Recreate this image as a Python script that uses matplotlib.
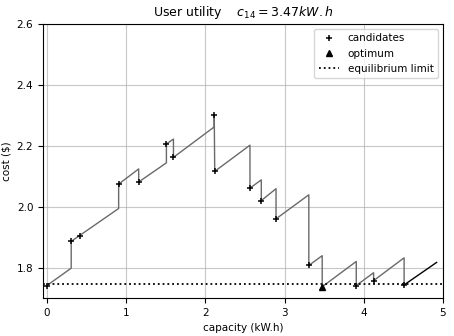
import numpy as np
import matplotlib.pyplot as plt

# ========= data =========
path_x = [0.0, 0.306, 0.306, 0.905, 0.905, 1.158, 1.158, 1.508, 1.508, 1.597, 1.597,
          2.112, 2.112, 2.118, 2.563, 2.563, 2.706, 2.706, 2.892, 2.892, 3.306, 3.306,
          3.475, 3.475, 3.905, 3.905, 4.124, 4.124, 4.509, 4.509]
path_y = [1.741, 1.798, 1.886, 1.994, 2.074, 2.124, 2.081, 2.144, 2.206, 2.222, 2.162,
          2.262, 2.300, 2.116, 2.202, 2.061, 2.088, 2.020, 2.059, 1.960, 2.039, 1.807,
          1.839, 1.737, 1.820, 1.741, 1.783, 1.757, 1.832, 1.743]
tail_x = [4.509, 4.92]
tail_y = [1.743, 1.817]

cand_x = [0.0, 0.306, 0.42, 0.905, 1.158, 1.508, 1.597, 2.112, 2.118, 2.563, 2.706,
          2.892, 3.306, 3.905, 4.124, 4.509]
cand_y = [1.741, 1.886, 1.904, 2.074, 2.081, 2.206, 2.162, 2.300, 2.116, 2.061, 2.020,
          1.960, 1.807, 1.741, 1.757, 1.743]
opt_x, opt_y = 3.47, 1.737
eq_limit = 1.747

# ========= plot =========
plt.rcParams['font.size'] = 7.5
fig = plt.figure(figsize=(4.54, 3.36), dpi=100)
ax = fig.add_axes([43 / 454, 1 - 298 / 336, 400 / 454, 274 / 336])

ax.plot(path_x, path_y, color="dimgray", linewidth=1.0, zorder=2)
ax.plot(tail_x, tail_y, color="black", linewidth=1.0, zorder=2)
ax.plot(cand_x, cand_y, "k+", markersize=5, markeredgewidth=1.1, label="candidates", zorder=3)
ax.plot([opt_x], [opt_y], "k^", markersize=5, label="optimum", zorder=3)
ax.axhline(eq_limit, color="black", linestyle=":", linewidth=1.3, label="equilibrium limit")

ax.set_xlim(-0.05, 5.0)
ax.set_ylim(1.7, 2.6)
ax.set_xticks([0, 1, 2, 3, 4, 5])
ax.set_yticks([1.8, 2.0, 2.2, 2.4, 2.6])
ax.grid(True, color="#b0b0b0", linewidth=0.8, alpha=0.7)
ax.set_axisbelow(True)
ax.set_xlabel("capacity (kW.h)")
ax.set_ylabel("cost ($)")
ax.set_title(r"User utility    $c_{14} = 3.47 kW.h$", fontsize=9)
ax.legend(loc="upper right", fontsize=7.5)

plt.savefig("out.png", dpi=100)
